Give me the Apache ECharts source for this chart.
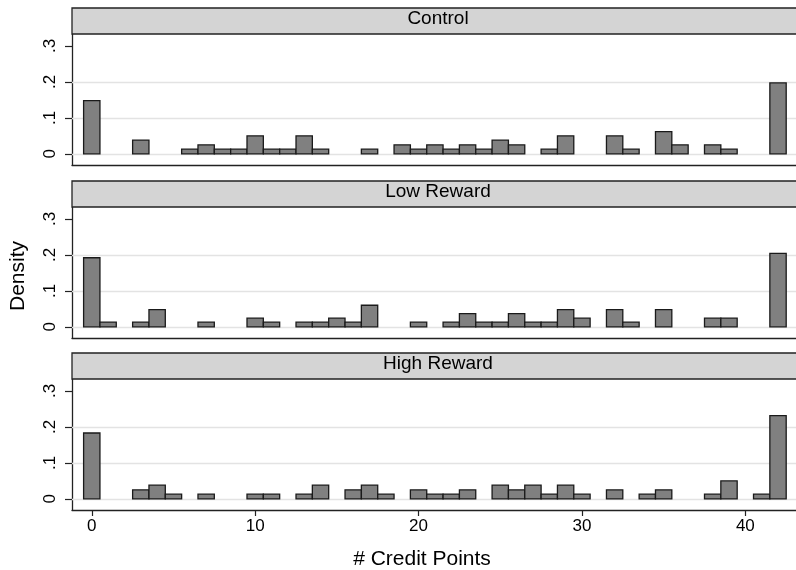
<!DOCTYPE html>
<html>
<head>
<meta charset="utf-8">
<script src="https://cdn.jsdelivr.net/npm/echarts@6/dist/echarts.min.js"></script>
<style>
html,body{margin:0;padding:0;background:#fff;}
#chart{width:796px;height:570px;}
</style>
</head>
<body>
<div id="chart"></div>
<script>
// ---- data ----
const panelTitles = ['Control', 'Low Reward', 'High Reward'];

const controlPoints  = [0, 3, 6, 7, 8, 9, 10, 11, 12, 13, 14, 17, 19, 20, 21, 22, 23, 24, 25, 26, 28, 29, 32, 33, 35, 36, 38, 39, 42];
const controlDensity = [0.148, 0.038, 0.013, 0.025, 0.013, 0.013, 0.050, 0.013, 0.013, 0.050, 0.013, 0.013, 0.025, 0.013, 0.025, 0.013, 0.025, 0.013, 0.038, 0.025, 0.013, 0.050, 0.050, 0.013, 0.062, 0.025, 0.025, 0.013, 0.197];

const lowPoints  = [0, 1, 3, 4, 7, 10, 11, 13, 14, 15, 16, 17, 20, 22, 23, 24, 25, 26, 27, 28, 29, 30, 32, 33, 35, 38, 39, 42];
const lowDensity = [0.192, 0.013, 0.013, 0.048, 0.013, 0.024, 0.013, 0.013, 0.013, 0.024, 0.013, 0.060, 0.013, 0.013, 0.037, 0.013, 0.013, 0.037, 0.013, 0.013, 0.048, 0.024, 0.048, 0.013, 0.048, 0.024, 0.024, 0.204];

const highPoints  = [0, 3, 4, 5, 7, 10, 11, 13, 14, 16, 17, 18, 20, 21, 22, 23, 25, 26, 27, 28, 29, 30, 32, 34, 35, 38, 39, 41, 42];
const highDensity = [0.183, 0.025, 0.038, 0.013, 0.013, 0.013, 0.013, 0.013, 0.038, 0.025, 0.038, 0.013, 0.025, 0.013, 0.013, 0.025, 0.038, 0.025, 0.038, 0.013, 0.038, 0.013, 0.025, 0.013, 0.025, 0.013, 0.050, 0.013, 0.231];

const xTickValues = [0, 10, 20, 30, 40];
const xTickLabels = ['0', '10', '20', '30', '40'];
const yTickValues = [0, 0.1, 0.2, 0.3];
const yTickLabels = ['0', '.1', '.2', '.3'];
const gridLineValues = [0, 0.1, 0.2];

const xAxisTitle = '# Credit Points';
const yAxisTitle = 'Density';

// ---- layout ----
const FONT = 'Liberation Sans, Arial, Helvetica, sans-serif';
const plotLeft = 72, plotWidth = 732, plotHeight = 131;
const plotTops = [34, 207, 379];
const stripH = 26;
const xMin = -1.21, xMax = 43.1;
const yMin = -0.031, yMax = 0.333;

const panelData = [
  [controlPoints, controlDensity],
  [lowPoints, lowDensity],
  [highPoints, highDensity]
];

const grids = [], xAxes = [], yAxes = [], series = [], graphics = [];

panelData.forEach(function (pd, i) {
  const isBottom = i === panelData.length - 1;
  grids.push({left: plotLeft, top: plotTops[i], width: plotWidth, height: plotHeight});
  xAxes.push({
    type: 'value', gridIndex: i, min: xMin, max: xMax,
    axisLine: {show: true, onZero: false, lineStyle: {color: '#222', width: 1.3}},
    axisTick: {show: isBottom, customValues: xTickValues, length: 6, lineStyle: {color: '#222', width: 1.2}},
    axisLabel: {show: isBottom, customValues: xTickValues, margin: 8,
      fontFamily: FONT, fontSize: 17, color: '#000',
      formatter: function (v) { return xTickLabels[xTickValues.indexOf(v)]; }},
    splitLine: {show: false}
  });
  yAxes.push({
    type: 'value', gridIndex: i, min: yMin, max: yMax,
    axisLine: {show: true, onZero: false, lineStyle: {color: '#222', width: 1.3}},
    axisTick: {show: true, customValues: yTickValues, length: 7, lineStyle: {color: '#222', width: 1.2}},
    axisLabel: {show: true, customValues: yTickValues, rotate: 90, margin: 13,
      fontFamily: FONT, fontSize: 17, color: '#000',
      formatter: function (v) {
        let k = -1;
        yTickValues.forEach(function (t, j) { if (Math.abs(t - v) < 1e-9) k = j; });
        return k >= 0 ? yTickLabels[k] : '';
      }},
    splitLine: {show: false}
  });
  series.push({
    type: 'custom', xAxisIndex: i, yAxisIndex: i, z: 2,
    data: pd[0].map(function (x, j) { return [x, pd[1][j]]; }),
    renderItem: function (params, api) {
      const x = api.value(0), y = api.value(1);
      const p0 = api.coord([x - 0.5, 0]);
      const p1 = api.coord([x + 0.5, y]);
      return {
        type: 'rect',
        shape: {x: p0[0], y: p1[1], width: p1[0] - p0[0], height: p0[1] - p1[1]},
        style: {fill: '#808080', stroke: '#1a1a1a', lineWidth: 1.3}
      };
    },
    markLine: {
      silent: true, symbol: 'none', z: 1, animation: false,
      label: {show: false},
      lineStyle: {color: '#e3e3e3', type: 'solid', width: 1.3},
      data: gridLineValues.map(function (v) { return {yAxis: v}; })
    }
  });
  // strip header
  graphics.push({
    type: 'rect', z: 10,
    shape: {x: plotLeft, y: plotTops[i] - stripH, width: plotWidth, height: stripH},
    style: {fill: '#d4d4d4', stroke: '#222', lineWidth: 1.3}
  });
  graphics.push({
    type: 'text', z: 11,
    x: 438, y: plotTops[i] - stripH / 2 - 2,
    style: {text: panelTitles[i], fontFamily: FONT, fontSize: 19, fill: '#000',
      align: 'center', verticalAlign: 'middle'}
  });
});

graphics.push({
  type: 'text', x: 422, y: 559,
  style: {text: xAxisTitle, fontFamily: FONT, fontSize: 21, fill: '#000', align: 'center', verticalAlign: 'middle'}
});
graphics.push({
  type: 'text', x: 18, y: 276, rotation: Math.PI / 2,
  style: {text: yAxisTitle, fontFamily: FONT, fontSize: 21, fill: '#000', align: 'center', verticalAlign: 'middle'}
});

const chart = echarts.init(document.getElementById('chart'), null, {renderer: 'canvas'});
chart.setOption({
  animation: false,
  backgroundColor: '#fff',
  grid: grids,
  xAxis: xAxes,
  yAxis: yAxes,
  series: series,
  graphic: graphics
});
</script>
</body>
</html>
